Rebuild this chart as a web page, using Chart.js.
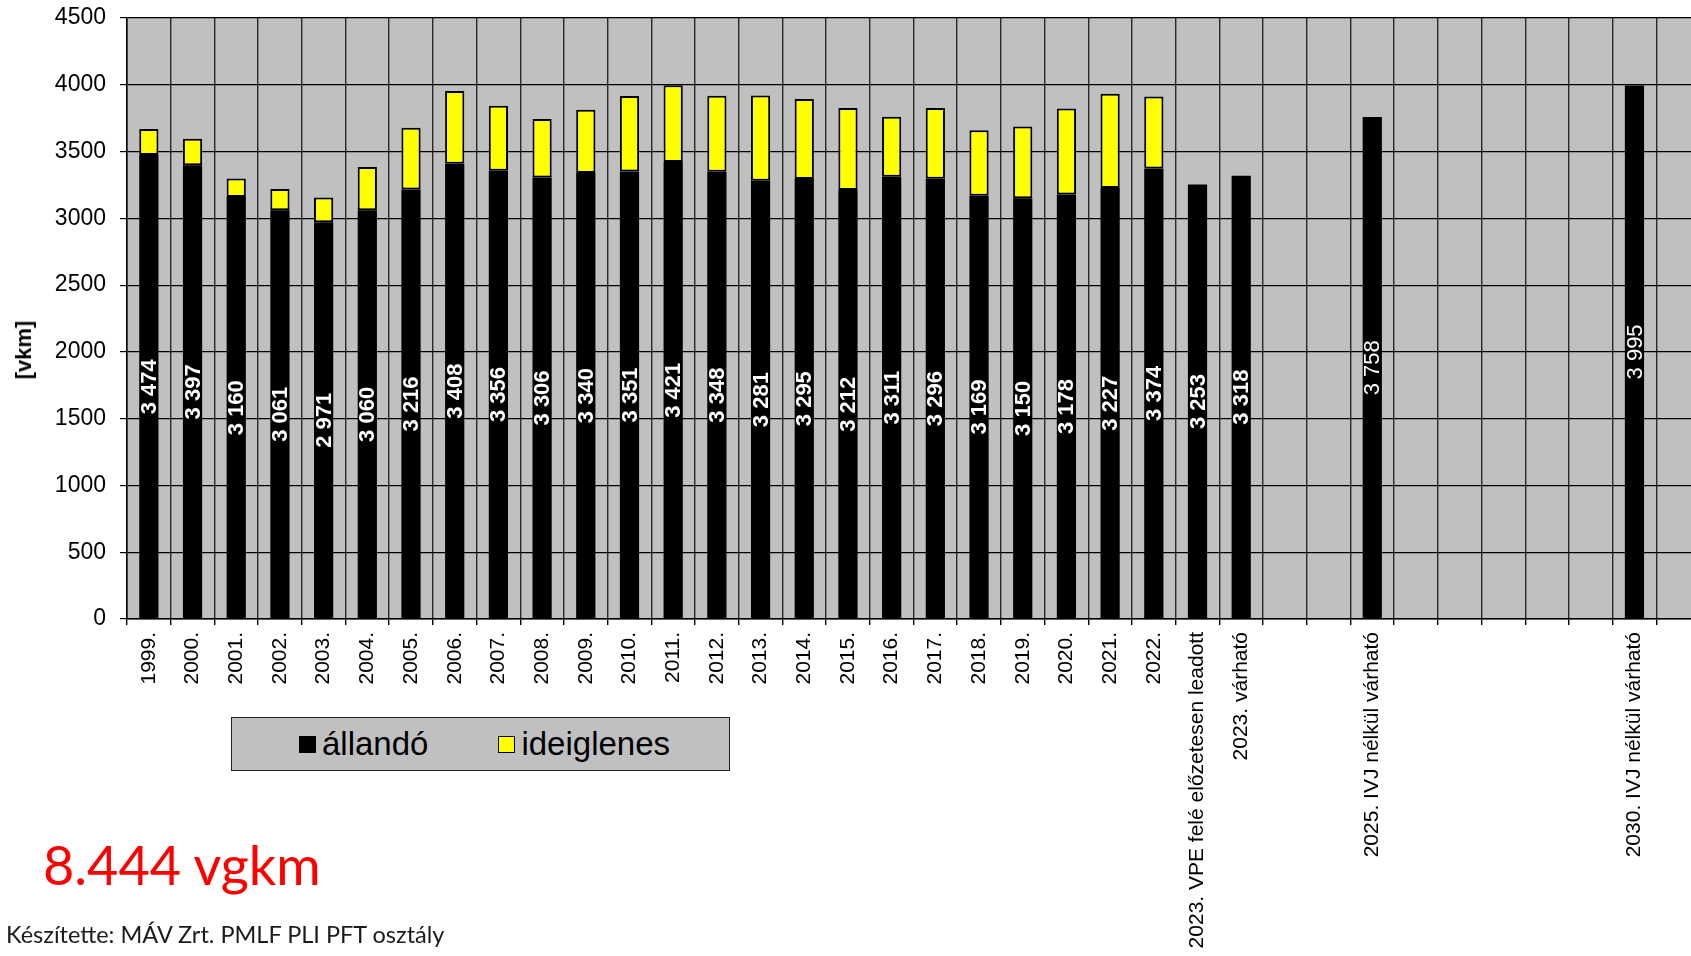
<!DOCTYPE html>
<html>
<head>
<meta charset="utf-8">
<script src="https://cdn.jsdelivr.net/npm/chart.js@4.4.1/dist/chart.umd.min.js"></script>
<style>
  html, body { margin: 0; padding: 0; background: #fff; overflow: hidden; }
  #wrap { position: relative; width: 1691px; height: 956px; overflow: hidden; }
  #chart { position: absolute; left: 0; top: 0; }
  #ytitle {
    position: absolute; left: 24px; top: 350px;
    transform: translate(-50%, -50%) rotate(-90deg);
    font: bold 22px "Liberation Sans", Arial, sans-serif; color: #000; white-space: nowrap;
  }
  #legend {
    position: absolute; left: 231px; top: 717px; width: 499px; height: 54px;
    background: #c0c0c0; border: 1.5px solid #222;
    display: flex; align-items: center; padding-left: 67px; box-sizing: border-box;
    font: 33px "Liberation Sans", Arial, sans-serif; color: #000;
  }
  #legend .item { display: flex; align-items: center; margin-right: 70px; }
  #legend .box { width: 15px; height: 15px; border: 1.5px solid #000; margin-right: 6px; }
  #big {
    position: absolute; left: 43px; top: 832px; line-height: 1;
    font: 54px Lato, "Noto Sans", sans-serif; color: #ff0000; white-space: nowrap;
  }
  #credit {
    position: absolute; left: 6px; top: 920px; line-height: 1;
    font: 23.5px Lato, "Noto Sans", sans-serif; color: #1a1a1a; white-space: nowrap;
  }
</style>
</head>
<body>
<div id="wrap">
  <canvas id="chart" width="1700" height="956"></canvas>
  <div id="ytitle">[vkm]</div>
  <div id="legend"></div>
  <div id="big">8.444 vgkm</div>
  <div id="credit">Készítette: MÁV Zrt. PMLF PLI PFT osztály</div>
</div>
<script>
// kategóriák (üres helyek a 2023 utáni évek között)
const categories = [
  '1999.', '2000.', '2001.', '2002.', '2003.', '2004.', '2005.', '2006.',
  '2007.', '2008.', '2009.', '2010.', '2011.', '2012.', '2013.', '2014.',
  '2015.', '2016.', '2017.', '2018.', '2019.', '2020.', '2021.', '2022.',
  '2023. VPE felé előzetesen leadott', '2023. várható', '', '',
  '2025. IVJ nélkül várható', '', '', '', '', '',
  '2030. IVJ nélkül várható', ''
];

// állandó sebességkorlátozások [vkm]
const allando = [
  3474, 3397, 3160, 3061, 2971, 3060, 3216, 3408,
  3356, 3306, 3340, 3351, 3421, 3348, 3281, 3295,
  3212, 3311, 3296, 3169, 3150, 3178, 3227, 3374,
  3253, 3318, null, null,
  3758, null, null, null, null, null,
  3995, null
];

// ideiglenes sebességkorlátozások [vkm] (a képről becsülve)
const ideiglenes = [
  195, 198, 138, 158, 185, 325, 462, 545,
  487, 438, 473, 565, 575, 570, 638, 598,
  615, 450, 530, 490, 538, 645, 705, 538,
  null, null, null, null,
  null, null, null, null, null, null,
  null, null
];

const yTicks = [0, 500, 1000, 1500, 2000, 2500, 3000, 3500, 4000, 4500];

// a várható (2025, 2030) címkék nem félkövérek
const regularLabels = ['2025. IVJ nélkül várható', '2030. IVJ nélkül várható'];

const fmt = v => String(v).replace(/\B(?=(\d{3})+(?!\d))/g, ' ');

// szürke rajzterület háttér
const plotBg = {
  id: 'plotBg',
  beforeDraw(chart) {
    const { ctx, chartArea: a } = chart;
    ctx.save();
    ctx.fillStyle = '#c0c0c0';
    ctx.fillRect(a.left, a.top, a.right - a.left, a.bottom - a.top);
    ctx.restore();
  }
};

// fehér, elforgatott értékcímkék a fekete oszlopokban
const barLabels = {
  id: 'barLabels',
  afterDatasetsDraw(chart) {
    const { ctx } = chart;
    const meta = chart.getDatasetMeta(0);
    meta.data.forEach((bar, i) => {
      const v = allando[i];
      if (v == null) return;
      const bold = !regularLabels.includes(categories[i]);
      ctx.save();
      ctx.translate(bar.x, (bar.y + bar.base) / 2);
      ctx.rotate(-Math.PI / 2);
      ctx.fillStyle = '#fff';
      ctx.font = (bold ? 'bold ' : '') + '22px "Liberation Sans", Arial, sans-serif';
      ctx.textAlign = 'center';
      ctx.textBaseline = 'middle';
      ctx.fillText(fmt(v), 0, 1);
      ctx.restore();
    });
  }
};

const chart = new Chart(document.getElementById('chart'), {
  type: 'bar',
  data: {
    labels: categories,
    datasets: [
      {
        label: 'állandó',
        data: allando,
        backgroundColor: '#000000',
        borderColor: '#000000',
        borderWidth: 0,
        barPercentage: 0.44,
        categoryPercentage: 1
      },
      {
        label: 'ideiglenes',
        data: ideiglenes,
        backgroundColor: '#ffff00',
        borderColor: '#000000',
        borderWidth: 2,
        borderSkipped: false,
        barPercentage: 0.44,
        categoryPercentage: 1
      }
    ]
  },
  options: {
    responsive: false,
    animation: false,
    devicePixelRatio: 1,
    layout: { padding: { top: 18, left: 0, right: 0, bottom: 0 } },
    plugins: {
      legend: { display: false },
      tooltip: { enabled: false }
    },
    scales: {
      x: {
        stacked: true,
        afterFit: s => {
          s.height = 956 - 619;
          s.paddingLeft = 0;
          s.paddingRight = 0;
        },
        grid: {
          offset: true,
          color: '#2a2a2a',
          lineWidth: 1.4,
          drawTicks: true,
          tickLength: 6,
          tickColor: '#000'
        },
        border: { color: '#000', width: 1.5 },
        ticks: {
          autoSkip: false,
          minRotation: 90,
          maxRotation: 90,
          padding: 7,
          color: '#000',
          font: { family: '"Liberation Sans", Arial, sans-serif', size: 21 }
        }
      },
      y: {
        stacked: true,
        min: 0,
        max: 4500,
        afterFit: s => {
          s.width = 127;
          s.paddingTop = 0;
          s.paddingBottom = 0;
        },
        afterBuildTicks: s => { s.ticks = yTicks.map(v => ({ value: v })); },
        grid: {
          color: '#000',
          lineWidth: 1.2,
          tickLength: 7,
          tickColor: '#000'
        },
        border: { color: '#000', width: 1.5 },
        ticks: {
          padding: 14,
          color: '#000',
          callback: v => String(v),
          font: { family: '"Liberation Sans", Arial, sans-serif', size: 23 }
        }
      }
    }
  },
  plugins: [plotBg, barLabels]
});

// jelmagyarázat a datasetekből
const legendEl = document.getElementById('legend');
chart.data.datasets.forEach(ds => {
  const item = document.createElement('div');
  item.className = 'item';
  const box = document.createElement('span');
  box.className = 'box';
  box.style.background = ds.backgroundColor;
  const txt = document.createElement('span');
  txt.textContent = ds.label;
  item.appendChild(box);
  item.appendChild(txt);
  legendEl.appendChild(item);
});
</script>
</body>
</html>
